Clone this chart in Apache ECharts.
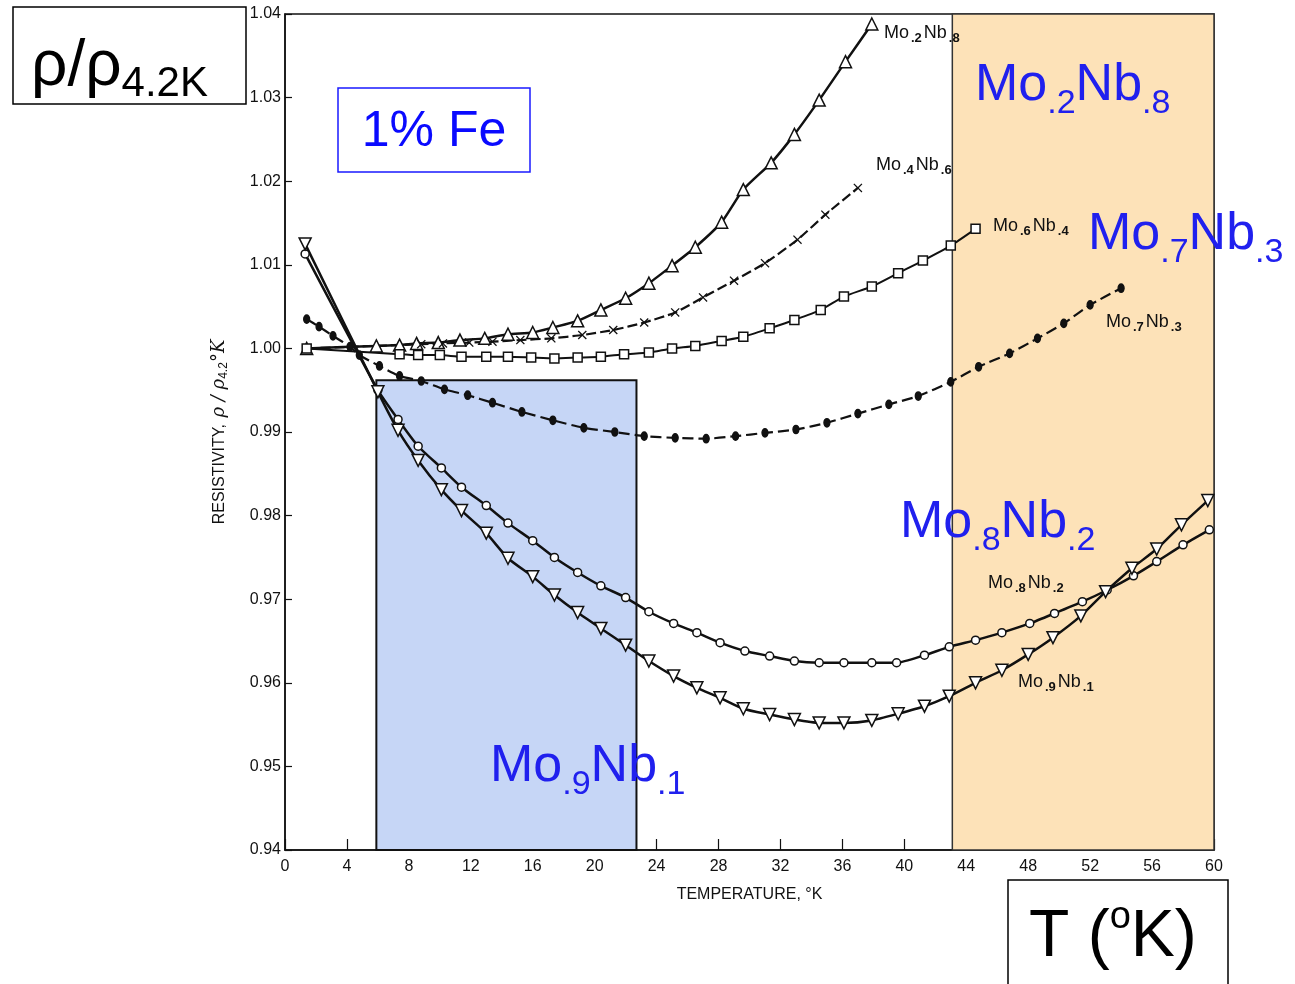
<!DOCTYPE html>
<html>
<head>
<meta charset="utf-8">
<script src="https://cdn.jsdelivr.net/npm/echarts@6.0.0/dist/echarts.min.js"></script>
<style>
html, body { margin: 0; padding: 0; background: #fff; }
#chart { width: 1295px; height: 984px; }
</style>
</head>
<body>
<div id="chart"></div>
<script>
// temperatures (K) and rho/rho(4.2K), one pair of arrays per alloy
var mo2nb8_T = [1.4, 5.9, 7.4, 8.5, 9.9, 11.3, 12.9, 14.4, 16.0, 17.3, 18.9, 20.4, 22.0, 23.5, 25.0, 26.5, 28.2, 29.6, 31.4, 32.9, 34.5, 36.2, 37.9];
var mo2nb8_R = [1.0000, 1.0003, 1.0004, 1.0006, 1.0007, 1.0010, 1.0012, 1.0017, 1.0019, 1.0025, 1.0033, 1.0046, 1.0060, 1.0078, 1.0099, 1.0121, 1.0151, 1.0190, 1.0222, 1.0256, 1.0297, 1.0343, 1.0388];

var mo4nb6_T = [1.4, 8.8, 10.2, 11.9, 13.4, 15.2, 17.2, 19.2, 21.2, 23.2, 25.2, 27.0, 29.0, 31.0, 33.1, 34.9, 37.0];
var mo4nb6_R = [1.0000, 1.0005, 1.0006, 1.0007, 1.0008, 1.0010, 1.0012, 1.0016, 1.0022, 1.0031, 1.0043, 1.0061, 1.0081, 1.0102, 1.0130, 1.0160, 1.0192];

var mo6nb4_T = [1.4, 7.4, 8.6, 10.0, 11.4, 13.0, 14.4, 15.9, 17.4, 18.9, 20.4, 21.9, 23.5, 25.0, 26.5, 28.2, 29.6, 31.3, 32.9, 34.6, 36.1, 37.9, 39.6, 41.2, 43.0, 44.6];
var mo6nb4_R = [1.0000, 0.9993, 0.9992, 0.9992, 0.9990, 0.9990, 0.9990, 0.9989, 0.9988, 0.9989, 0.9990, 0.9993, 0.9995, 1.0000, 1.0003, 1.0009, 1.0014, 1.0024, 1.0034, 1.0046, 1.0062, 1.0074, 1.0090, 1.0105, 1.0123, 1.0143];

var mo7nb3_T = [1.4, 2.2, 3.1, 4.2, 4.8, 6.1, 7.4, 8.8, 10.3, 11.8, 13.4, 15.3, 17.3, 19.3, 21.3, 23.2, 25.2, 27.2, 29.1, 31.0, 33.0, 35.0, 37.0, 39.0, 40.9, 43.0, 44.8, 46.8, 48.6, 50.3, 52.0, 54.0];
var mo7nb3_R = [1.0035, 1.0026, 1.0015, 1.0002, 0.9992, 0.9979, 0.9967, 0.9961, 0.9951, 0.9944, 0.9935, 0.9924, 0.9914, 0.9905, 0.9900, 0.9895, 0.9893, 0.9892, 0.9895, 0.9899, 0.9903, 0.9911, 0.9922, 0.9933, 0.9943, 0.9960, 0.9978, 0.9994, 1.0012, 1.0030, 1.0052, 1.0072];

var mo8nb2_T = [1.3, 6.0, 7.3, 8.6, 10.1, 11.4, 13.0, 14.4, 16.0, 17.4, 18.9, 20.4, 22.0, 23.5, 25.1, 26.6, 28.1, 29.7, 31.3, 32.9, 34.5, 36.1, 37.9, 39.5, 41.3, 42.9, 44.6, 46.3, 48.1, 49.7, 51.5, 53.1, 54.8, 56.3, 58.0, 59.7];
var mo8nb2_R = [1.0113, 0.9950, 0.9915, 0.9883, 0.9857, 0.9834, 0.9812, 0.9791, 0.9770, 0.9750, 0.9732, 0.9716, 0.9702, 0.9685, 0.9671, 0.9660, 0.9648, 0.9638, 0.9632, 0.9626, 0.9624, 0.9624, 0.9624, 0.9624, 0.9633, 0.9643, 0.9651, 0.9660, 0.9671, 0.9683, 0.9697, 0.9711, 0.9728, 0.9745, 0.9765, 0.9783];

var mo9nb1_T = [1.3, 6.0, 7.3, 8.6, 10.1, 11.4, 13.0, 14.4, 16.0, 17.4, 18.9, 20.4, 22.0, 23.5, 25.1, 26.6, 28.1, 29.6, 31.3, 32.9, 34.5, 36.1, 37.9, 39.6, 41.3, 42.9, 44.6, 46.3, 48.0, 49.6, 51.4, 53.0, 54.7, 56.3, 57.9, 59.6];
var mo9nb1_R = [1.0125, 0.9948, 0.9902, 0.9866, 0.9831, 0.9806, 0.9779, 0.9749, 0.9727, 0.9705, 0.9684, 0.9665, 0.9645, 0.9626, 0.9608, 0.9594, 0.9582, 0.9569, 0.9562, 0.9556, 0.9552, 0.9552, 0.9555, 0.9563, 0.9572, 0.9584, 0.9600, 0.9615, 0.9634, 0.9654, 0.9680, 0.9709, 0.9737, 0.9760, 0.9789, 0.9818];

// highlighted temperature bands: [T from, T to, top value] (they run down to the axis)
var blueBand = [5.9, 22.7, 0.9962];
var orangeBand = [43.1, 60, 1.04];

var xTicks = [0, 60, 4];        // min, max, step
var yTicks = [0.94, 1.04, 0.01];

function pairs(t, r) {
    var out = [];
    for (var i = 0; i < t.length; i++) {
        out.push([t[i], r[i]]);
    }
    return out;
}

var myChart = echarts.init(document.getElementById('chart'));
var ink = '#111';
var narrow = '"Liberation Sans Narrow", "Liberation Sans", Arial, sans-serif';
var sans = '"Liberation Sans", Arial, sans-serif';
var crossPath = 'path://M0,1L1,0L5,4L9,0L10,1L6,5L10,9L9,10L5,6L1,10L0,9L4,5Z';

function curve(name, data, symbol, size, fill, dash, width) {
    return {
        name: name,
        type: 'line',
        data: data,
        symbol: symbol,
        symbolSize: size,
        smooth: 0.2,
        z: 3,
        itemStyle: { color: fill, borderColor: ink, borderWidth: 1.5 },
        lineStyle: { color: ink, width: width, type: dash },
        emphasis: { disabled: true },
        silent: true
    };
}

var m9 = curve('Mo.9Nb.1', pairs(mo9nb1_T, mo9nb1_R), 'triangle', 12, '#fff', 'solid', 2.5);
m9.symbolRotate = 180;
var m4 = curve('Mo.4Nb.6', pairs(mo4nb6_T, mo4nb6_R), crossPath, 9, ink, [10, 4], 2.2);
m4.itemStyle.borderWidth = 0;
var m7 = curve('Mo.7Nb.3', pairs(mo7nb3_T, mo7nb3_R), 'circle', [6, 8], ink, [11, 5], 2.2);

// small labels from the original figure, and the blue slide overlays
function smallLabel(x, y, a, b) {
    return {
        type: 'text', x: x, y: y, z: 20,
        style: {
            text: '{m|Mo}{s|.' + a + '}{m|Nb}{s|.' + b + '}',
            align: 'left', verticalAlign: 'middle', textAlign: 'left', textVerticalAlign: 'middle',
            fill: ink,
            rich: {
                m: { fontSize: 18, fontFamily: narrow, fill: ink },
                s: { fontSize: 13, fontFamily: narrow, fontWeight: 'bold', fill: ink, padding: [11, 2, 0, 2] }
            }
        }
    };
}
function bigLabel(x, y, a, b) {
    return {
        type: 'text', x: x, y: y, z: 20,
        style: {
            text: '{m|Mo}{s|.' + a + '}{m|Nb}{s|.' + b + '}',
            align: 'left', verticalAlign: 'middle', textAlign: 'left', textVerticalAlign: 'middle',
            fill: '#2020ee',
            rich: {
                m: { fontSize: 52, fontFamily: sans, fill: '#2020ee' },
                s: { fontSize: 34, fontFamily: sans, fill: '#2020ee', padding: [36, 0, 0, 0] }
            }
        }
    };
}

var option = {
    backgroundColor: '#fff',
    animation: false,
    grid: {
        left: 285, right: 81, top: 14, bottom: 134,
        show: true, borderColor: ink, borderWidth: 1.5,
        backgroundColor: 'transparent',
        outerBoundsMode: 'none'
    },
    xAxis: {
        type: 'value',
        min: xTicks[0], max: xTicks[1], interval: xTicks[2],
        name: 'TEMPERATURE, °K',
        nameLocation: 'middle',
        nameGap: 37,
        nameTextStyle: { color: ink, fontSize: 16, fontFamily: narrow },
        axisLine: { show: true, onZero: false, lineStyle: { color: ink, width: 1.5 } },
        axisTick: { show: true, inside: true, length: 11, lineStyle: { color: ink, width: 1.2 } },
        axisLabel: { color: ink, fontSize: 16, fontFamily: narrow, margin: 9 },
        splitLine: { show: false }
    },
    yAxis: {
        type: 'value',
        min: yTicks[0], max: yTicks[1], interval: yTicks[2],
        name: '{a|RESISTIVITY,}  {b|ρ / ρ}{c|4.2}{b|°K}',
        nameLocation: 'middle',
        nameRotate: 90,
        nameGap: 55,
        nameTextStyle: {
            color: ink,
            rich: {
                a: { fontSize: 16, fontFamily: sans, color: ink },
                b: { fontSize: 18, fontFamily: 'DejaVu Serif, serif', fontStyle: 'italic', color: ink },
                c: { fontSize: 12, fontFamily: sans, color: ink, padding: [9, 0, 0, 0] }
            }
        },
        axisLine: { show: true, lineStyle: { color: ink, width: 1.5 } },
        axisTick: { show: true, inside: true, length: 7, lineStyle: { color: ink, width: 1.2 } },
        axisLabel: {
            color: ink, fontSize: 16, fontFamily: narrow, margin: 4,
            formatter: function (v) { return v.toFixed(2); }
        },
        splitLine: { show: false }
    },
    series: [
        {
            name: 'bands',
            type: 'line',
            data: [],
            z: 1,
            silent: true,
            markArea: {
                silent: true,
                label: { show: false },
                data: [
                    [
                        { xAxis: blueBand[0], yAxis: blueBand[2],
                          itemStyle: { color: '#c6d6f6', borderColor: ink, borderWidth: 2 } },
                        { xAxis: blueBand[1], yAxis: yTicks[0] }
                    ],
                    [
                        { xAxis: orangeBand[0], yAxis: orangeBand[2],
                          itemStyle: { color: '#fde2b8', borderColor: '#333', borderWidth: 1.5 } },
                        { xAxis: orangeBand[1], yAxis: yTicks[0] }
                    ]
                ]
            }
        },
        curve('Mo.2Nb.8', pairs(mo2nb8_T, mo2nb8_R), 'triangle', 12, '#fff', 'solid', 2.5),
        m4,
        curve('Mo.6Nb.4', pairs(mo6nb4_T, mo6nb4_R), 'rect', 9, '#fff', 'solid', 2),
        m7,
        curve('Mo.8Nb.2', pairs(mo8nb2_T, mo8nb2_R), 'circle', 8, '#fff', 'solid', 2.5),
        m9
    ],
    graphic: [
        // rho box, top left
        { type: 'rect', z: 20, shape: { x: 13, y: 7, width: 233, height: 97 },
          style: { fill: '#fff', stroke: '#000', lineWidth: 1.5 } },
        { type: 'text', x: 31, y: 67, z: 21,
          style: {
              text: '{a|ρ/ρ}{b|4.2K}',
              align: 'left', verticalAlign: 'middle', textAlign: 'left', textVerticalAlign: 'middle',
              fill: '#000',
              rich: {
                  a: { fontSize: 64, fontFamily: sans, fill: '#000' },
                  b: { fontSize: 42, fontFamily: sans, fill: '#000', padding: [34, 0, 0, 0] }
              }
          } },
        // 1% Fe box
        { type: 'rect', z: 20, shape: { x: 338, y: 88, width: 192, height: 84 },
          style: { fill: '#fff', stroke: '#1a1aff', lineWidth: 1.5 } },
        { type: 'text', x: 434, y: 132, z: 21,
          style: {
              text: '1% Fe', fontSize: 50, fontFamily: sans, fill: '#0a0aff',
              align: 'center', verticalAlign: 'middle', textAlign: 'center', textVerticalAlign: 'middle'
          } },
        // T box, bottom right
        { type: 'rect', z: 20, shape: { x: 1008, y: 880, width: 220, height: 120 },
          style: { fill: '#fff', stroke: '#000', lineWidth: 1.5 } },
        { type: 'text', x: 1029, y: 938, z: 21,
          style: {
              text: '{a|T (}{p|o}{a|K)}',
              align: 'left', verticalAlign: 'middle', textAlign: 'left', textVerticalAlign: 'middle',
              fill: '#000',
              rich: {
                  a: { fontSize: 66, fontFamily: sans, fill: '#000' },
                  p: { fontSize: 38, fontFamily: sans, fill: '#000', padding: [0, 0, 40, 0] }
              }
          } },
        smallLabel(884, 33, '2', '8'),
        smallLabel(876, 165, '4', '6'),
        smallLabel(993, 226, '6', '4'),
        smallLabel(1106, 322, '7', '3'),
        smallLabel(988, 583, '8', '2'),
        smallLabel(1018, 682, '9', '1'),
        bigLabel(975, 86, '2', '8'),
        bigLabel(1088, 235, '7', '3'),
        bigLabel(900, 523, '8', '2'),
        bigLabel(490, 767, '9', '1')
    ]
};

myChart.setOption(option);
</script>
</body>
</html>
